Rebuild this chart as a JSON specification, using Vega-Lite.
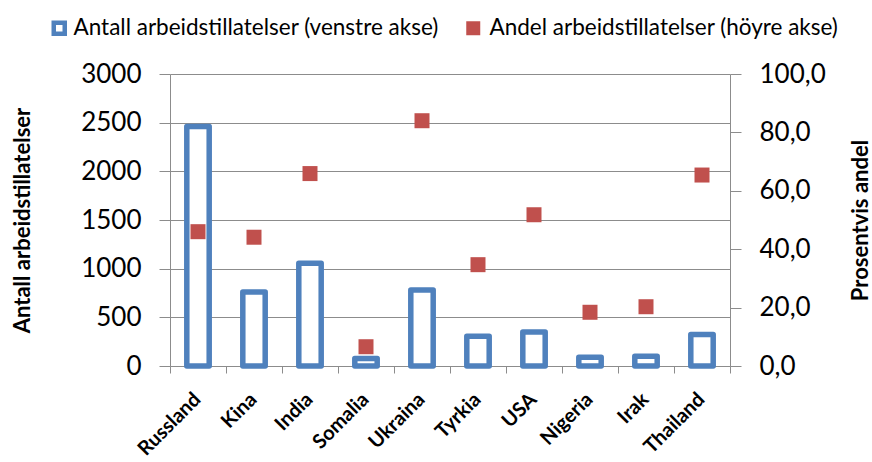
{
  "$schema": "https://vega.github.io/schema/vega-lite/v6.json",
  "autosize": {"type": "none"},
  "width": 560,
  "height": 292,
  "padding": {"left": 170, "top": 74, "right": 142, "bottom": 96},
  "background": "white",
  "config": {
    "font": "Lato",
    "view": {"stroke": null},
    "axis": {"labelColor": "black", "titleColor": "black", "domainColor": "#8c8c8c", "tickColor": "#8c8c8c", "gridColor": "#8c8c8c"}
  },
  "data": {
    "values": [
      {"land": "Russland", "antall": 2460, "andel": 46.0},
      {"land": "Kina", "antall": 760, "andel": 44.1},
      {"land": "India", "antall": 1055, "andel": 65.9},
      {"land": "Somalia", "antall": 77, "andel": 6.6},
      {"land": "Ukraina", "antall": 780, "andel": 84.0},
      {"land": "Tyrkia", "antall": 305, "andel": 34.7},
      {"land": "USA", "antall": 350, "andel": 51.8},
      {"land": "Nigeria", "antall": 90, "andel": 18.4},
      {"land": "Irak", "antall": 100, "andel": 20.3},
      {"land": "Thailand", "antall": 323, "andel": 65.4}
    ]
  },
  "encoding": {
    "x": {
      "field": "land", "type": "nominal", "sort": null,
      "scale": {"paddingInner": 0, "paddingOuter": 0},
      "axis": {"title": null, "labelAngle": -45, "labelFontWeight": "bold", "labelFontSize": 20, "tickBand": "extent", "tickSize": 7, "labelPadding": 16, "labelOffset": -8, "grid": false}
    }
  },
  "layer": [
    {
      "mark": {"type": "bar", "fill": "white", "strokeWidth": 5.5, "strokeJoin": "round", "width": {"band": 0.4}},
      "encoding": {
        "y": {
          "field": "antall", "type": "quantitative",
          "scale": {"domain": [0, 3000], "nice": false},
          "axis": {"orient": "left", "values": [0, 500, 1000, 1500, 2000, 2500, 3000], "format": "d", "labelFontSize": 26, "labelPadding": 18, "tickSize": 11, "grid": true, "title": "Antall arbeidstillatelser", "titleFontSize": 22, "titleFontWeight": "bold", "titlePadding": 46}
        },
        "stroke": {
          "datum": "Antall arbeidstillatelser (venstre akse)", "type": "nominal",
          "scale": {"range": ["#4F81BD"]},
          "legend": {"title": null, "orient": "none", "legendX": -122, "legendY": -57, "symbolType": "square", "symbolFillColor": "white", "symbolStrokeColor": "#4F81BD", "symbolStrokeWidth": 4.5, "symbolSize": 121, "labelFontSize": 22.5, "labelLimit": 0, "labelOffset": 3, "padding": 0, "labelColor": "black"}
        }
      }
    },
    {
      "mark": {"type": "square", "filled": true, "size": 225, "opacity": 1},
      "encoding": {
        "y": {
          "field": "andel", "type": "quantitative",
          "scale": {"domain": [0, 100], "nice": false},
          "axis": {"orient": "right", "values": [0, 20, 40, 60, 80, 100], "labelExpr": "replace(format(datum.value, '.1f'), '.', ',')", "labelFontSize": 26, "labelPadding": 18, "tickSize": 11, "grid": false, "title": "Prosentvis andel", "titleAngle": 270, "titleFontSize": 22, "titleFontWeight": "bold", "titlePadding": 47}
        },
        "color": {
          "datum": "Andel arbeidstillatelser (höyre akse)", "type": "nominal",
          "scale": {"range": ["#C0504D"]},
          "legend": {"title": null, "orient": "none", "legendX": 292, "legendY": -57, "symbolType": "square", "symbolSize": 196, "labelFontSize": 22.5, "labelLimit": 0, "labelOffset": 5, "padding": 0, "labelColor": "black"}
        }
      }
    }
  ],
  "resolve": {"scale": {"y": "independent", "color": "independent", "stroke": "independent"}}
}
